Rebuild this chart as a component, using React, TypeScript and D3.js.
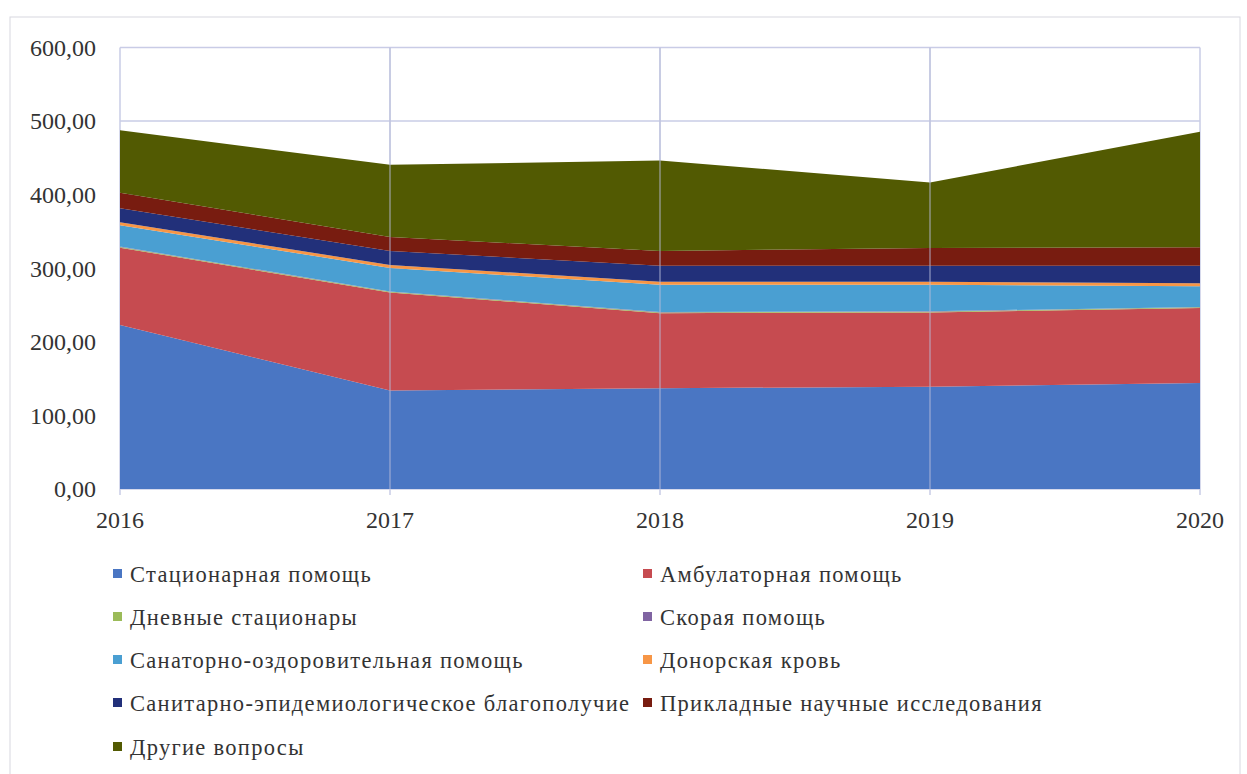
import React from "react";
import * as d3 from "d3";

const years = [2016, 2017, 2018, 2019, 2020];
const yTicks = [0, 100, 200, 300, 400, 500, 600];

const seriesNames = [
  "Стационарная помощь",
  "Амбулаторная помощь",
  "Дневные стационары",
  "Скорая помощь",
  "Санаторно-оздоровительная помощь",
  "Донорская кровь",
  "Санитарно-эпидемиологическое благополучие",
  "Прикладные научные исследования",
  "Другие вопросы",
];

const stationary = [223, 134, 137, 139, 144];
const ambulatory = [105, 133, 102, 101, 102];
const dayHospitals = [1, 1, 1, 1, 1];
const ambulance = [0.5, 0.5, 0.5, 0.5, 0.5];
const sanatorium = [29, 32, 37, 36, 28];
const donorBlood = [4, 4, 4, 4, 4];
const sanitary = [19, 19, 22, 22, 24];
const applied = [21, 19, 20, 24, 25];
const other = [85, 98, 123, 89, 157];

const seriesValues = [
  stationary,
  ambulatory,
  dayHospitals,
  ambulance,
  sanatorium,
  donorBlood,
  sanitary,
  applied,
  other,
];

const colors = [
  "#4a76c3",
  "#c64b50",
  "#9bbb59",
  "#8064a2",
  "#4a9fd2",
  "#f79646",
  "#22307a",
  "#781c10",
  "#525a02",
];

const W = 1247;
const H = 774;
const X0 = 120;
const X1 = 1200;
const Y0 = 489;
const Y1 = 47.5;
const FONT = "Liberation Serif";

export default function App() {
  const x = d3.scaleLinear().domain([2016, 2020]).range([X0, X1]);
  const y = d3.scaleLinear().domain([0, 600]).range([Y0, Y1]);

  const table = years.map((yr, i) => {
    const row: any = { year: yr };
    seriesNames.forEach((n, k) => (row[n] = seriesValues[k][i]));
    return row;
  });
  const stacked = d3.stack<any>().keys(seriesNames)(table);
  const area = d3
    .area<any>()
    .x((d) => x(d.data.year))
    .y0((d) => y(d[0]))
    .y1((d) => y(d[1]));

  const fmt = (v: number) => v.toFixed(2).replace(".", ",");

  const legendRows = [574, 617, 660, 703, 747];
  const legendCols = [113, 643];
  const textStyle = { fontFamily: FONT };

  return (
    <svg
      width={W}
      height={H}
      style={{ position: "absolute", left: 0, top: 0, background: "#fff" }}
    >
      <rect x={10} y={17} width={1230} height={760} fill="none" stroke="#d8d8e0" strokeWidth={1} />
      {yTicks.map((t) => (
        <line key={"g" + t} x1={X0} x2={X1} y1={y(t)} y2={y(t)} stroke="#c9cce6" strokeWidth={1.5} />
      ))}
      {years.map((yr) => (
        <line key={"v" + yr} x1={x(yr)} x2={x(yr)} y1={Y1} y2={Y0} stroke="#c9cce6" strokeWidth={1.5} />
      ))}
      {stacked.map((s, k) => (
        <path key={s.key} d={area(s) || ""} fill={colors[k]} />
      ))}
      {years.slice(1, 4).map((yr) => (
        <line key={"vo" + yr} x1={x(yr)} x2={x(yr)} y1={Y1} y2={Y0} stroke="#b8bcd8" strokeOpacity={0.6} strokeWidth={1.5} />
      ))}
      {years.map((yr) => (
        <line key={"t" + yr} x1={x(yr)} x2={x(yr)} y1={Y0} y2={Y0 + 6} stroke="#c9cce6" strokeWidth={1.5} />
      ))}
      {yTicks.map((t) => (
        <text key={"yl" + t} x={96} y={y(t)} dy="0.35em" textAnchor="end" fontSize={24} fill="#333" style={textStyle}>
          {fmt(t)}
        </text>
      ))}
      {years.map((yr) => (
        <text key={"xl" + yr} x={x(yr)} y={528} textAnchor="middle" fontSize={24} fill="#333" style={textStyle}>
          {yr}
        </text>
      ))}
      {seriesNames.map((n, k) => {
        const col = k % 2;
        const row = Math.floor(k / 2);
        const lx = legendCols[col];
        const ly = legendRows[row];
        return (
          <g key={"lg" + k}>
            <rect x={lx} y={ly - 5} width={9} height={9} fill={colors[k]} />
            <text x={lx + 17} y={ly} dy="0.35em" fontSize={22.5} fill="#333" letterSpacing={1.3} style={textStyle}>
              {n}
            </text>
          </g>
        );
      })}
    </svg>
  );
}
